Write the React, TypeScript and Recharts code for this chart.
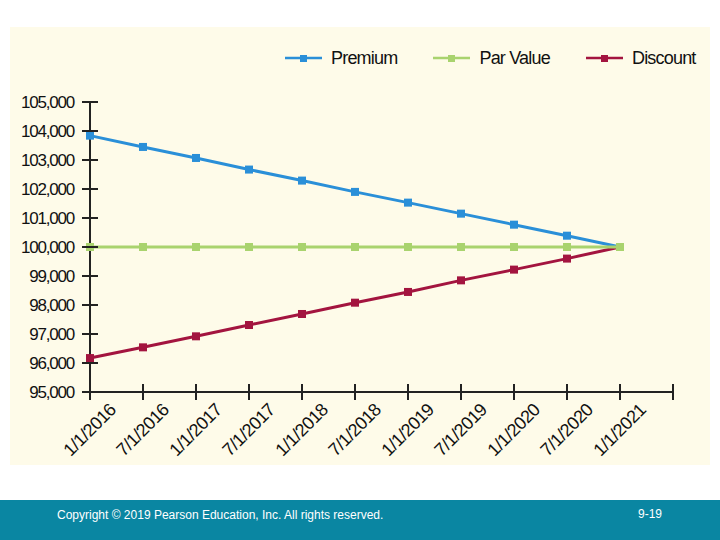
import React from "react";
import { LineChart, Line, XAxis, YAxis, Legend } from "recharts";

const dates = [
  "1/1/2016",
  "7/1/2016",
  "1/1/2017",
  "7/1/2017",
  "1/1/2018",
  "7/1/2018",
  "1/1/2019",
  "7/1/2019",
  "1/1/2020",
  "7/1/2020",
  "1/1/2021",
  "",
];
const premium = [103840, 103450, 103070, 102670, 102290, 101900, 101530, 101150, 100770, 100390, 100000, null];
const parValue = [100000, 100000, 100000, 100000, 100000, 100000, 100000, 100000, 100000, 100000, 100000, null];
const discount = [96170, 96540, 96920, 97310, 97690, 98080, 98450, 98850, 99220, 99600, 100000, null];
const yTicks = [95000, 96000, 97000, 98000, 99000, 100000, 101000, 102000, 103000, 104000, 105000];

const seriesList = [
  { key: "premium", name: "Premium", color: "#2a8fd8" },
  { key: "parValue", name: "Par Value", color: "#a9d36e" },
  { key: "discount", name: "Discount", color: "#a3143f" },
];

const data = dates.map((date, i) => ({
  date,
  premium: premium[i],
  parValue: parValue[i],
  discount: discount[i],
}));

const FONT = '"Liberation Sans", Arial, sans-serif';

const squareDot = (color: string) => (props: any) => {
  const { cx, cy, index } = props;
  if (cx == null || cy == null || isNaN(cy)) return <g key={"d" + index} />;
  return <rect key={"d" + index} x={cx - 4} y={cy - 4} width={8} height={8} fill={color} />;
};

const YTick = (props: any) => {
  const { x, y, payload } = props;
  return (
    <g>
      <line x1={x - 8} x2={x + 8} y1={y} y2={y} stroke="#222" strokeWidth={2} />
      <text
        x={x - 16}
        y={y}
        dy={6}
        textAnchor="end"
        fontSize={17}
        letterSpacing={-1.2}
        fill="#111"
        fontFamily={FONT}
      >
        {Number(payload.value).toLocaleString("en-US")}
      </text>
    </g>
  );
};

const XTick = (props: any) => {
  const { x, y, payload } = props;
  const tx = x + 27;
  const ty = y + 19;
  return (
    <g>
      <line x1={x} x2={x} y1={y - 8} y2={y + 8} stroke="#222" strokeWidth={2} />
      {payload.value ? (
        <text
          x={tx}
          y={ty}
          textAnchor="end"
          fontSize={18}
          letterSpacing={-0.6}
          fill="#111"
          fontFamily={FONT}
          transform={`rotate(-45, ${tx}, ${ty})`}
        >
          {payload.value}
        </text>
      ) : null}
    </g>
  );
};

const LegendContent = () => (
  <div
    style={{
      display: "flex",
      alignItems: "center",
      fontFamily: FONT,
      fontSize: 18,
      letterSpacing: -0.8,
      color: "#111",
      whiteSpace: "nowrap",
      lineHeight: "22px",
    }}
  >
    {seriesList.map((s) => (
      <div key={s.key} style={{ display: "flex", alignItems: "center", marginRight: 36 }}>
        <svg width={37} height={10} style={{ marginRight: 9 }}>
          <line x1={0} x2={37} y1={5} y2={5} stroke={s.color} strokeWidth={2.5} />
          <rect x={15} y={2} width={7} height={7} fill={s.color} />
        </svg>
        <span>{s.name}</span>
      </div>
    ))}
  </div>
);

export default function App() {
  return (
    <div
      style={{
        position: "fixed",
        left: 0,
        top: 0,
        width: 720,
        height: 540,
        background: "#ffffff",
        overflow: "hidden",
      }}
    >
      <div style={{ position: "absolute", left: 10, top: 27, width: 700, height: 438, background: "#fefbe9" }}>
        <LineChart width={700} height={438} data={data} margin={{ top: 75, right: 37, left: 0, bottom: 0 }}>
          <XAxis
            dataKey="date"
            height={73}
            axisLine={{ stroke: "#222", strokeWidth: 2 }}
            tickLine={false}
            tickSize={0}
            tickMargin={0}
            tick={<XTick />}
            interval={0}
          />
          <YAxis
            width={80}
            domain={[95000, 105000]}
            ticks={yTicks}
            axisLine={{ stroke: "#222", strokeWidth: 2 }}
            tickLine={false}
            tickSize={0}
            tickMargin={0}
            tick={<YTick />}
            interval={0}
          />
          <Legend
            layout="horizontal"
            verticalAlign="middle"
            align="center"
            wrapperStyle={{ top: 20, left: 275, width: "auto" }}
            content={<LegendContent />}
          />
          <Line
            dataKey="premium"
            name="Premium"
            stroke="#2a8fd8"
            strokeWidth={3}
            dot={squareDot("#2a8fd8")}
            isAnimationActive={false}
          />
          <Line
            dataKey="discount"
            name="Discount"
            stroke="#a3143f"
            strokeWidth={3}
            dot={squareDot("#a3143f")}
            isAnimationActive={false}
          />
          <Line
            dataKey="parValue"
            name="Par Value"
            stroke="#a9d36e"
            strokeWidth={3}
            dot={squareDot("#a9d36e")}
            isAnimationActive={false}
          />
        </LineChart>
      </div>
      <div
        style={{
          position: "absolute",
          left: 0,
          top: 500,
          width: 720,
          height: 40,
          background: "#0a86a2",
          color: "#ffffff",
          fontFamily: FONT,
          fontSize: 12,
        }}
      >
        <span style={{ position: "absolute", left: 57, top: 8 }}>
          Copyright © 2019 Pearson Education, Inc. All rights reserved.
        </span>
        <span style={{ position: "absolute", left: 638, top: 7 }}>9-19</span>
      </div>
    </div>
  );
}
